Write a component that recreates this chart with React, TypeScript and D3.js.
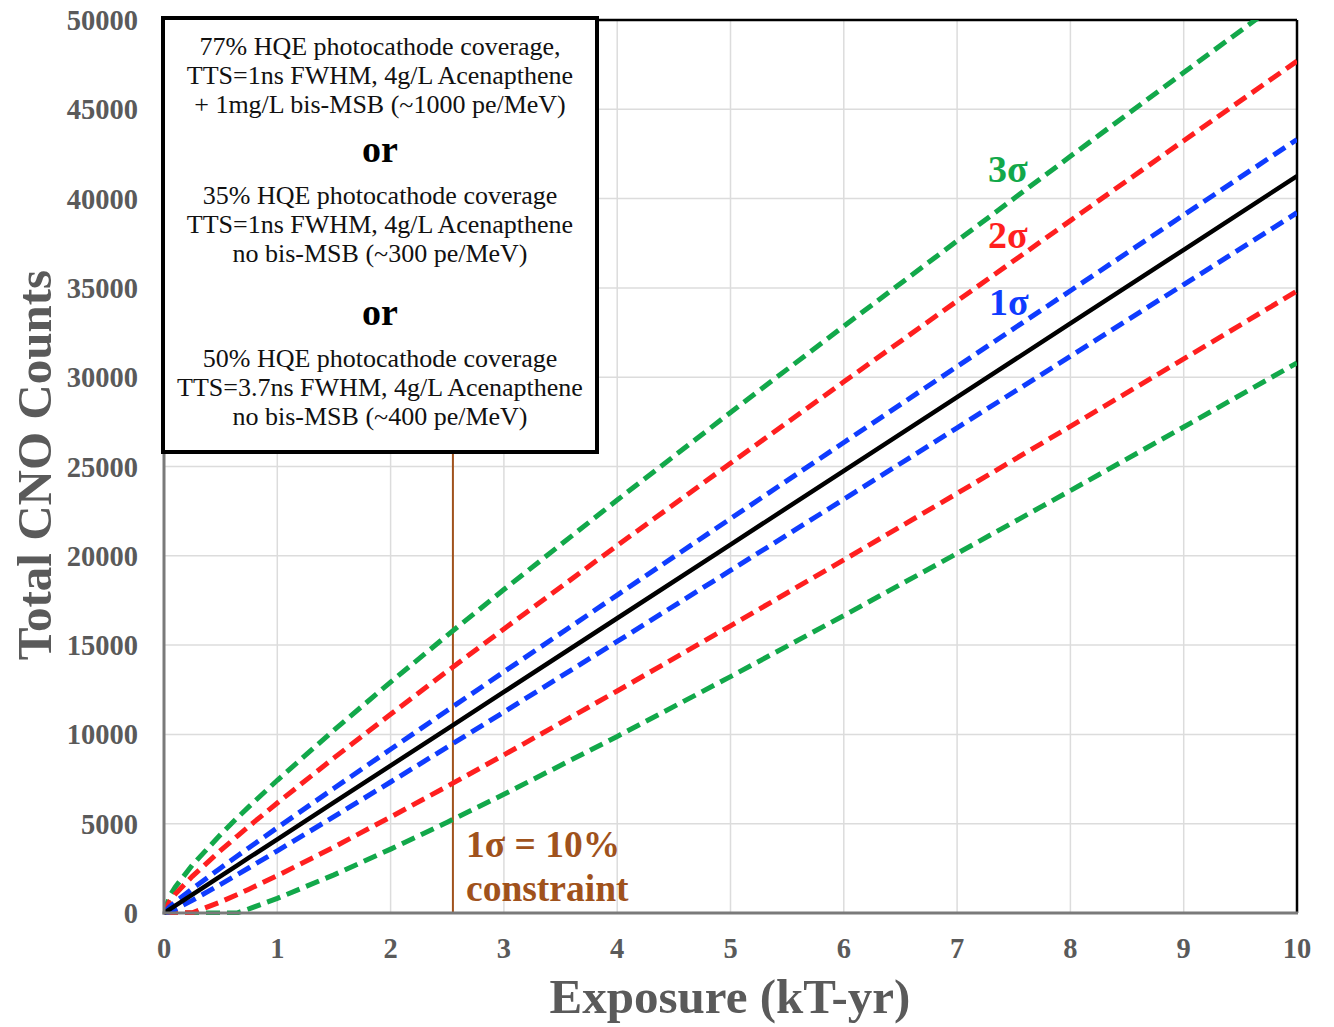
import React from "react";
import * as d3 from "d3";

const exposure = [0, 0.05, 0.1, 0.25, 0.5, 0.65, 0.75, 1, 1.5, 2, 2.5, 3, 4, 5, 6, 7, 8, 9, 10];
const central = [0, 206, 413, 1032, 2063, 2682, 3095, 4126, 6189, 8252, 10315, 12378, 16504, 20630, 24756, 28882, 33008, 37134, 41260];
const blueUpper = [0, 351, 618, 1356, 2522, 3205, 3657, 4774, 6984, 9169, 11341, 13502, 17802, 22080, 26345, 30598, 34843, 39080, 43311];
const blueLower = [0, 61, 208, 708, 1604, 2159, 2533, 3478, 5394, 7335, 9289, 11254, 15206, 19180, 23167, 27166, 31173, 35188, 39209];
const redUpper = [0, 662, 1057, 2050, 3502, 4324, 4858, 6161, 8684, 11130, 13536, 15906, 20577, 25182, 29742, 34268, 38768, 43243, 47698];
const redLower = [0, 0, 0, 14, 624, 1040, 1332, 2091, 3694, 5374, 7094, 8850, 12431, 16078, 19770, 23496, 27248, 31025, 34822];
const greenUpper = [0, 948, 1458, 2685, 4401, 5350, 5958, 7432, 10242, 12928, 15547, 18110, 23122, 28025, 32857, 37632, 42366, 47058, 51720];
const greenLower = [0, 0, 0, 0, 0, 14, 232, 820, 2136, 3576, 5083, 6646, 9886, 13235, 16655, 20132, 23650, 27210, 30800];

const xTicks = [0, 1, 2, 3, 4, 5, 6, 7, 8, 9, 10];
const yTicks = [0, 5000, 10000, 15000, 20000, 25000, 30000, 35000, 40000, 45000, 50000];
const constraintExposure = 2.55;

const legendGroups = [
  ["77% HQE photocathode coverage,", "TTS=1ns FWHM, 4g/L Acenapthene", "+ 1mg/L bis-MSB (~1000 pe/MeV)"],
  ["35% HQE photocathode coverage", "TTS=1ns FWHM, 4g/L Acenapthene", "no bis-MSB (~300 pe/MeV)"],
  ["50% HQE photocathode coverage", "TTS=3.7ns FWHM, 4g/L Acenapthene", "no bis-MSB (~400 pe/MeV)"],
];

const GREEN = "#12a84a";
const RED = "#ff1f1f";
const BLUE = "#0f3cff";
const BROWN = "#a0521c";
const GRAY = "#5a5a5a";
const SERIF = "'Liberation Serif', 'Times New Roman', serif";

export default function App() {
  const left = 164, right = 1297, top = 20, bottom = 913;
  const x = d3.scaleLinear().domain([0, 10]).range([left, right]);
  const y = d3.scaleLinear().domain([0, 50000]).range([bottom, top]);
  const line = (vals: number[]) =>
    d3.line<number>().x((_, i) => x(exposure[i])).y((v) => y(v))(vals) || "";

  const dashed = [
    { v: greenUpper, c: GREEN },
    { v: greenLower, c: GREEN },
    { v: redUpper, c: RED },
    { v: redLower, c: RED },
    { v: blueUpper, c: BLUE },
    { v: blueLower, c: BLUE },
  ];

  const legendLines: { t: string; y: number; bold?: boolean }[] = [];
  const groupY = [55, 204, 367];
  legendGroups.forEach((g, gi) => {
    g.forEach((t, i) => legendLines.push({ t, y: groupY[gi] + i * 29 }));
  });
  legendLines.push({ t: "or", y: 162, bold: true });
  legendLines.push({ t: "or", y: 325, bold: true });

  return (
    <svg width={1334} height={1027} style={{ position: "absolute", left: 0, top: 0, background: "#fff" }}>
      <defs>
        <clipPath id="plot">
          <rect x={left} y={top} width={right - left} height={bottom - top + 2} />
        </clipPath>
      </defs>
      <rect x={0} y={0} width={1334} height={1027} fill="#fff" />
      {xTicks.map((t) => (
        <line key={"gx" + t} x1={x(t)} x2={x(t)} y1={top} y2={bottom} stroke="#dcdcdc" strokeWidth={1.5} />
      ))}
      {yTicks.map((t) => (
        <line key={"gy" + t} x1={left} x2={right} y1={y(t)} y2={y(t)} stroke="#dcdcdc" strokeWidth={1.5} />
      ))}
      <line x1={left} x2={right} y1={top} y2={top} stroke="#000" strokeWidth={2.5} />
      <line x1={right} x2={right} y1={top} y2={bottom} stroke="#000" strokeWidth={2.5} />
      <line x1={x(constraintExposure)} x2={x(constraintExposure)} y1={top} y2={bottom} stroke={BROWN} strokeWidth={2} />
      <g clipPath="url(#plot)">
        {dashed.map((d, i) => (
          <path key={i} d={line(d.v)} fill="none" stroke={d.c} strokeWidth={5} strokeDasharray="14 7" />
        ))}
        <path d={line(central)} fill="none" stroke="#000" strokeWidth={4.5} />
      </g>
      <line x1={left} x2={left} y1={top} y2={bottom + 1.5} stroke="#7a7a7a" strokeWidth={3} />
      <line x1={left - 1.5} x2={right + 1} y1={bottom} y2={bottom} stroke="#7a7a7a" strokeWidth={3} />
      {yTicks.map((t) => (
        <text key={"ty" + t} x={138} y={y(t) + 10} textAnchor="end" fontFamily={SERIF} fontWeight="bold" fontSize={28.5} fill={GRAY}>
          {t}
        </text>
      ))}
      {xTicks.map((t) => (
        <text key={"tx" + t} x={x(t)} y={958} textAnchor="middle" fontFamily={SERIF} fontWeight="bold" fontSize={28.5} fill={GRAY}>
          {t}
        </text>
      ))}
      <text x={730} y={1013} textAnchor="middle" fontFamily={SERIF} fontWeight="bold" fontSize={49} fill={GRAY}>
        Exposure (kT-yr)
      </text>
      <text transform="translate(51,465) rotate(-90)" textAnchor="middle" fontFamily={SERIF} fontWeight="bold" fontSize={49} fill={GRAY}>
        Total CNO Counts
      </text>
      <text x={988} y={182} fontFamily={SERIF} fontWeight="bold" fontSize={38} fill={GREEN}>3σ</text>
      <text x={988} y={248} fontFamily={SERIF} fontWeight="bold" fontSize={38} fill={RED}>2σ</text>
      <text x={989} y={315} fontFamily={SERIF} fontWeight="bold" fontSize={38} fill={BLUE}>1σ</text>
      <text x={466} y={857} fontFamily={SERIF} fontWeight="bold" fontSize={37.5} fill={BROWN}>1σ = 10%</text>
      <text x={466} y={901} fontFamily={SERIF} fontWeight="bold" fontSize={37.5} fill={BROWN}>constraint</text>
      <rect x={163} y={18} width={434} height={434} fill="#fff" stroke="#000" strokeWidth={4} />
      {legendLines.map((l, i) => (
        <text
          key={"lg" + i}
          x={380}
          y={l.y}
          textAnchor="middle"
          fontFamily={SERIF}
          fontWeight={l.bold ? "bold" : "normal"}
          fontSize={l.bold ? 38 : 26}
          fill={l.bold ? "#000" : "#111"}
        >
          {l.t}
        </text>
      ))}
    </svg>
  );
}
